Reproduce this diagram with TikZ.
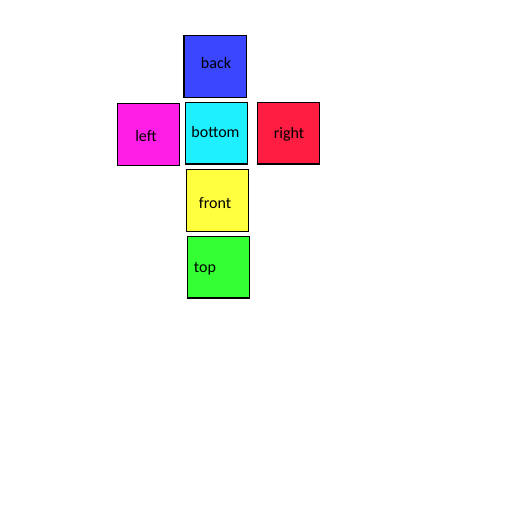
\documentclass[tikz,border=0pt]{standalone}
\usepackage{fontspec}
\setmainfont{Carlito}
\definecolor{cback}{RGB}{58,70,255}
\definecolor{cleft}{RGB}{255,30,230}
\definecolor{cbottom}{RGB}{30,240,255}
\definecolor{cright}{RGB}{255,30,66}
\definecolor{cfront}{RGB}{255,255,64}
\definecolor{ctop}{RGB}{51,255,51}
\begin{document}
\begin{tikzpicture}[x=1pt,y=-1pt,
  face/.style={draw=black,line width=1.4pt},
  lbl/.style={font=\fontsize{16}{19}\selectfont,text=black,inner sep=0pt}]
\useasboundingbox (0,0) rectangle (512,512);
\fill[white] (0,0) rectangle (512,512);
\draw[face,fill=cback] (184,35.5) rectangle (246.5,97.3);
\draw[face,fill=cleft] (117.5,103.5) rectangle (179.3,165.3);
\draw[face,fill=cbottom] (185.5,102.3) rectangle (247.7,164);
\draw[face,fill=cright] (257.5,102.3) rectangle (319.3,164);
\draw[face,fill=cfront] (186.7,169.5) rectangle (248.5,231.3);
\draw[face,fill=ctop] (187.5,236.3) rectangle (249.5,298);
\node[lbl] (back) at (216,63.5) {back};
\node[lbl] (left) at (146,136.5) {left};
\node[lbl] (bottom) at (215.5,131.5) {bottom};
\node[lbl] (right) at (289,134.5) {right};
\node[lbl] (front) at (215,203.5) {front};
\node[lbl] (top) at (205,268.5) {top};
\end{tikzpicture}
\end{document}
